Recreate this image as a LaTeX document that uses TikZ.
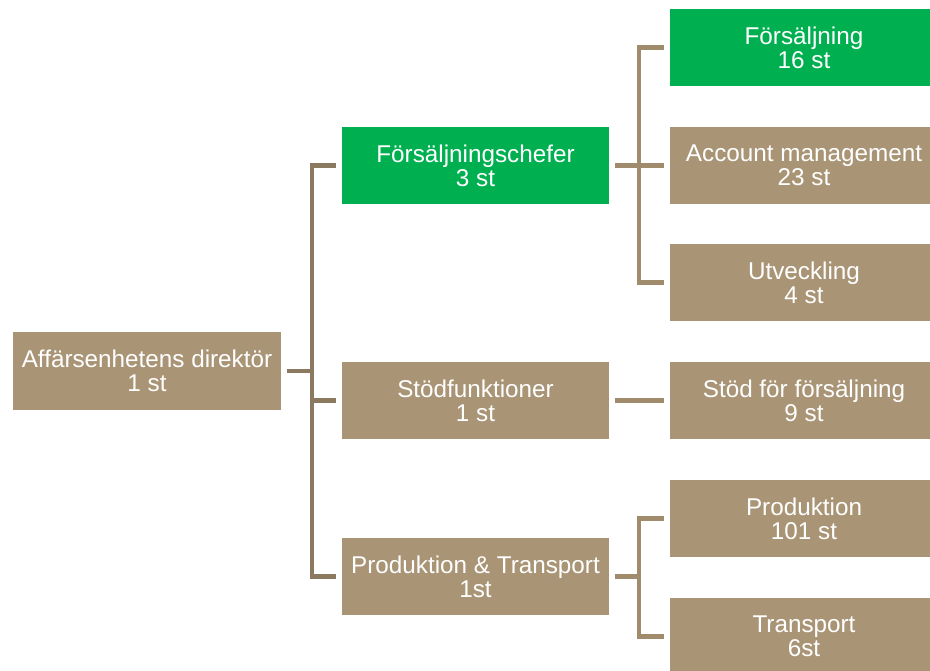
\documentclass[tikz,border=0pt]{standalone}
\usepackage{fontspec}
\setmainfont{Liberation Sans}
\definecolor{tanbox}{HTML}{A99576}
\definecolor{greenbox}{HTML}{00B050}
\definecolor{lineA}{HTML}{8C7A60}
\definecolor{lineB}{HTML}{A08B6C}
\tikzset{
  orgbox/.style={fill=tanbox, draw=none, text=white, align=center,
    inner sep=0pt, font=\fontsize{18.2pt}{18pt}\selectfont},
  greenorg/.style={orgbox, fill=greenbox},
  rootsize/.style={minimum width=268*0.75pt, minimum height=78*0.75pt},
  midsize/.style={minimum width=267*0.75pt, minimum height=77*0.75pt},
  rightsize/.style={minimum width=268*0.75pt, minimum height=77*0.75pt},
  connA/.style={draw=lineA, line width=3.6pt},
  connB/.style={draw=lineB, line width=3.6pt},
}
\begin{document}
\begin{tikzpicture}[x=0.75pt,y=-0.75pt]
\useasboundingbox (0,0) rectangle (930,670);
% root
\node[orgbox, rootsize] (root) at (147,371) {Affärsenhetens direktör\\1 st};
% middle column
\node[greenorg, midsize] (m1) at (475.5,165.5) {Försäljningschefer\\3 st};
\node[orgbox, midsize] (m2) at (475.5,400.5) {Stödfunktioner\\1 st};
\node[orgbox, midsize] (m3) at (475.5,576.5) {Produktion \& Transport\\1st};
% right column
\node[greenorg, rightsize] (r1) at (804,47.5) {Försäljning\\16 st};
\node[orgbox, rightsize] (r2) at (804,165.5) {Account management\\23 st};
\node[orgbox, rightsize] (r3) at (804,282.5) {Utveckling\\4 st};
\node[orgbox, rightsize] (r4) at (804,400.5) {Stöd för försäljning\\9 st};
\node[orgbox, rightsize] (r5) at (804,518.5) {Produktion\\101 st};
\node[orgbox, rightsize] (r6) at (804,636.5) {Transport\\6st};
% coordinates for connectors
\coordinate (rootE) at ([xshift=6*0.75pt]root.east);
\coordinate (busA) at (312,371);
\coordinate (m1W) at ([xshift=-6*0.75pt]m1.west);
\coordinate (m2W) at ([xshift=-6*0.75pt]m2.west);
\coordinate (m3W) at ([xshift=-6*0.75pt]m3.west);
% left tree
\draw[connA] (rootE) -- (busA);
\draw[connA, line join=miter] (m1W) -| (busA |- m3W) -- (m3W);
\draw[connA] (busA |- m2W) -- (m2W);
% right trees
\coordinate (m1E) at ([xshift=6*0.75pt]m1.east);
\coordinate (m2E) at ([xshift=6*0.75pt]m2.east);
\coordinate (m3E) at ([xshift=6*0.75pt]m3.east);
\coordinate (r1W) at ([xshift=-6*0.75pt]r1.west);
\coordinate (r2W) at ([xshift=-6*0.75pt]r2.west);
\coordinate (r3W) at ([xshift=-6*0.75pt]r3.west);
\coordinate (r4W) at ([xshift=-6*0.75pt]r4.west);
\coordinate (r5W) at ([xshift=-6*0.75pt]r5.west);
\coordinate (r6W) at ([xshift=-6*0.75pt]r6.west);
\coordinate (busB) at (639,165.5);
\coordinate (busC) at (639,576.5);
\draw[connB] (m1E) -- (r2W);
\draw[connB, line join=miter] (r1W) -| (busB |- r3W) -- (r3W);
\draw[connB] (m2E) -- (r4W);
\draw[connB] (m3E) -- (busC);
\draw[connB, line join=miter] (r5W) -| (busC |- r6W) -- (r6W);
\end{tikzpicture}
\end{document}
